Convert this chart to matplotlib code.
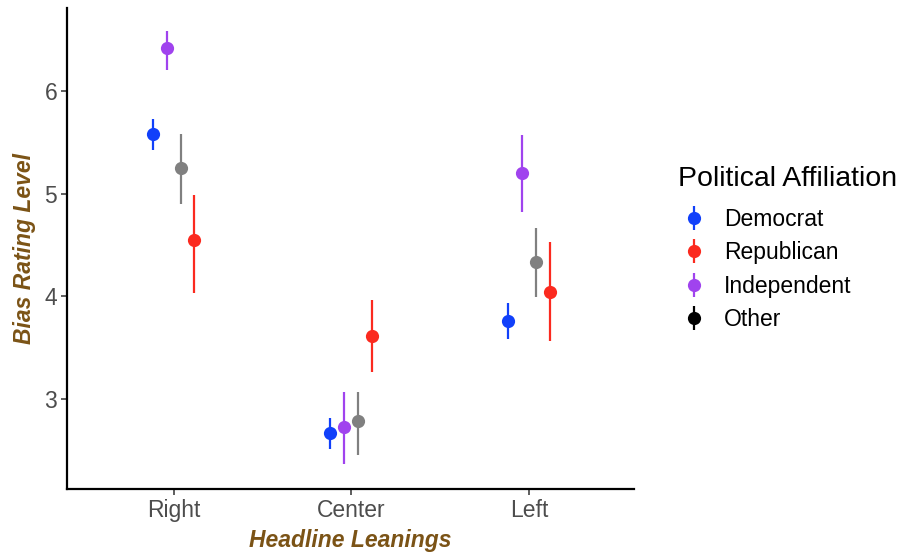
import numpy as np
import matplotlib.pyplot as plt
from matplotlib.lines import Line2D
from matplotlib.legend_handler import HandlerTuple

plt.rcParams['font.family'] = ['Liberation Sans', 'DejaVu Sans']

# -----------------------------
# Data
# -----------------------------
leanings = ['Right', 'Center', 'Left']
groups = ['Democrat', 'Independent', 'Other', 'Republican']   # dodge order
legend_order = ['Democrat', 'Republican', 'Independent', 'Other']

means = {
    'Democrat':    [5.58, 2.67, 3.76],
    'Independent': [6.42, 2.72, 5.20],
    'Other':       [5.25, 2.78, 4.33],
    'Republican':  [4.55, 3.61, 4.04],
}
lower = {
    'Democrat':    [5.43, 2.51, 3.58],
    'Independent': [6.21, 2.36, 4.82],
    'Other':       [4.90, 2.45, 3.99],
    'Republican':  [4.03, 3.26, 3.56],
}
upper = {
    'Democrat':    [5.73, 2.81, 3.93],
    'Independent': [6.59, 3.07, 5.57],
    'Other':       [5.58, 3.07, 4.66],
    'Republican':  [4.99, 3.96, 4.53],
}

colors = {
    'Democrat': '#1140FA',
    'Republican': '#FB2A1F',
    'Independent': '#A043EE',
    'Other': '#808080',
}
legend_colors = dict(colors, Other='black')
label_color = '#7B5316'

# -----------------------------
# Plot
# -----------------------------
fig = plt.figure(figsize=(9.03, 5.54), dpi=100)
ax = fig.add_axes([0.0742, 0.1173, 0.6278, 0.8683])

x = np.arange(len(leanings))
offsets = np.array([-0.118, -0.04, 0.04, 0.116])
for g, off in zip(groups, offsets):
    m = np.array(means[g])
    lo = np.array(lower[g])
    hi = np.array(upper[g])
    ax.vlines(x + off, lo, hi, color=colors[g], lw=1.6, zorder=2)
    ax.plot(x + off, m, 'o', color=colors[g], ms=9.5, mec='none', zorder=3)

ax.set_xlim(-0.6, 2.59)
ax.set_ylim(2.12, 6.81)
ax.set_xticks(x)
ax.set_xticklabels(leanings)
ax.set_yticks([3, 4, 5, 6])
ax.tick_params(axis='both', labelsize=16.5, labelcolor='#4D4D4D', color='#333333',
               length=4, width=1.1, pad=3)

for s in ['top', 'right']:
    ax.spines[s].set_visible(False)
for s in ['left', 'bottom']:
    ax.spines[s].set_linewidth(1.6)

ax.set_xlabel('Headline Leanings', fontsize=16.5, fontweight='bold', style='italic',
              color=label_color, labelpad=5)
ax.set_ylabel('Bias Rating Level', fontsize=16.5, fontweight='bold', style='italic',
              color=label_color, labelpad=6)

# legend: dot with a short vertical bar through it
handles = []
for g in legend_order:
    dot = Line2D([0], [0], color=legend_colors[g], marker='o', ms=9.5, mec='none', lw=0)
    bar = Line2D([0], [0], color=legend_colors[g], marker='|', ms=17, mew=1.6, lw=0)
    handles.append((bar, dot))
leg = fig.legend(handles, legend_order, title='Political Affiliation',
                 loc='upper left', bbox_to_anchor=(0.728, 0.738), frameon=False,
                 fontsize=16.5, title_fontsize=20.5, handletextpad=0.6,
                 labelspacing=0.45, handlelength=1.4,
                 handler_map={tuple: HandlerTuple(ndivide=1)})
leg._legend_box.align = 'left'
leg._legend_box.sep = 11.8

fig.savefig('out.png', dpi=100)
